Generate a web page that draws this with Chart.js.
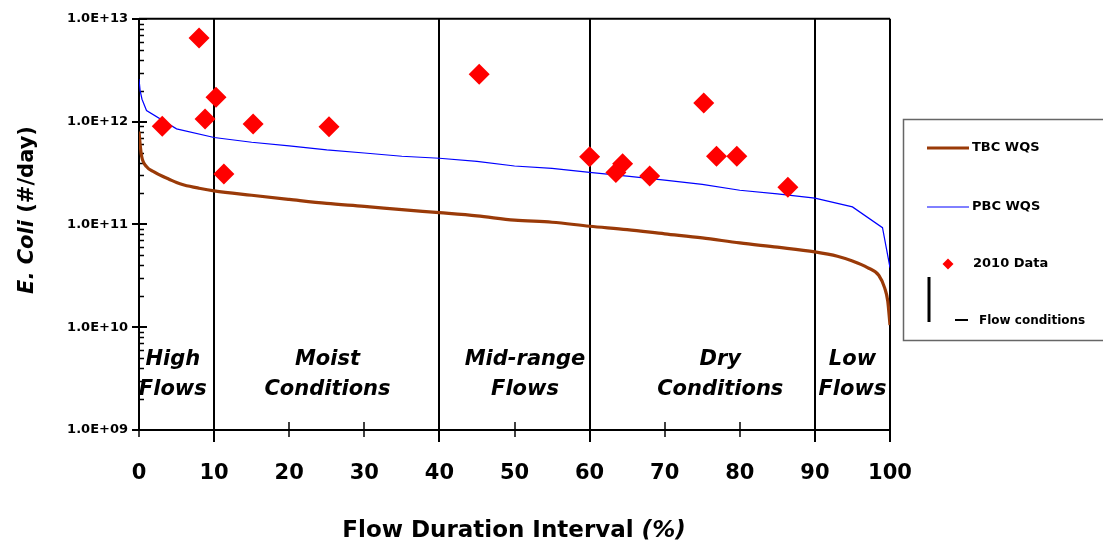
<!DOCTYPE html>
<html><head><meta charset="utf-8">
<script src="https://cdn.jsdelivr.net/npm/chart.js@4.4.1/dist/chart.umd.min.js"></script>
<style>html,body{margin:0;padding:0;background:#fff;overflow:hidden}#wrap{position:relative;width:1103px;height:546px}</style>
</head><body><div id="wrap"><canvas id="c" width="1103" height="546"></canvas></div>
<script>
// ---- data ----
const tbcX = [0, 0.15, 0.35, 1, 2, 3.2, 4, 5, 6, 8, 10, 15, 20, 25, 30, 35, 40, 45, 50, 55, 60, 65, 70, 75, 80, 85, 90, 93, 95, 97, 98.5, 99.3, 99.7, 100];
const tbcY = [8.0e11, 6.0e11, 4.6e11, 3.65e11, 3.25e11, 2.92e11, 2.75e11, 2.55e11, 2.42e11, 2.25e11, 2.12e11, 1.92e11, 1.75e11, 1.6e11, 1.5e11, 1.39e11, 1.3e11, 1.21e11, 1.1e11, 1.05e11, 9.6e10, 8.9e10, 8.1e10, 7.4e10, 6.6e10, 6.0e10, 5.4e10, 4.9e10, 4.4e10, 3.8e10, 3.2e10, 2.4e10, 1.8e10, 1.05e10];
const pbcX = [0, 0.15, 0.4, 1, 5, 10, 15, 20, 25, 30, 35, 40, 45, 50, 55, 60, 65, 70, 75, 80, 85, 90, 95, 99, 100];
const pbcY = [2.6e12, 2.0e12, 1.65e12, 1.28e12, 8.5e11, 7.0e11, 6.3e11, 5.8e11, 5.3e11, 4.95e11, 4.6e11, 4.4e11, 4.1e11, 3.7e11, 3.5e11, 3.2e11, 2.95e11, 2.7e11, 2.45e11, 2.15e11, 1.98e11, 1.8e11, 1.48e11, 9.3e10, 3.8e10];
const dataX = [3.1, 8.0, 8.8, 10.25, 11.3, 15.2, 25.3, 45.3, 60.0, 63.5, 64.4, 68.0, 75.2, 76.9, 79.6, 86.4];
const dataY = [9.0e11, 6.5e12, 1.06e12, 1.73e12, 3.1e11, 9.5e11, 8.9e11, 2.88e12, 4.55e11, 3.2e11, 3.9e11, 2.95e11, 1.52e12, 4.6e11, 4.6e11, 2.3e11];
const xTicks = [0, 10, 20, 30, 40, 50, 60, 70, 80, 90, 100];
const yTicks = [1e9, 1e10, 1e11, 1e12, 1e13];
const yTickLabels = ['1.0E+09', '1.0E+10', '1.0E+11', '1.0E+12', '1.0E+13'];
const flowBreaks = [10, 40, 60, 90];
const regionNames = [['High', 'Flows'], ['Moist', 'Conditions'], ['Mid-range', 'Flows'], ['Dry', 'Conditions'], ['Low', 'Flows']];
const regionCenters = [4.5, 25.1, 51.4, 77.4, 95.0];
const seriesNames = ['TBC WQS', 'PBC WQS', '2010 Data', 'Flow conditions'];
const xTitle = ['Flow Duration Interval ', '(%)'];
const yTitle = ['E. Coli', ' (#/day)'];

// ---- style ----
const FONT = '"Comic Sans MS", "DejaVu Sans", sans-serif';
const BROWN = '#9a3a08', BLUE = '#0000ff', RED = '#ff0000';

const toPts = (xs, ys) => xs.map((x, i) => ({x: x, y: ys[i]}));

const decor = {
  id: 'decor',
  beforeDatasetsDraw(chart) {
    const {ctx, chartArea: a, scales: {x, y}} = chart;
    ctx.save();
    ctx.strokeStyle = '#000';
    ctx.lineCap = 'butt';
    ctx.lineWidth = 2;
    ctx.beginPath();
    ctx.moveTo(a.left, a.top); ctx.lineTo(a.right, a.top);
    ctx.moveTo(a.right, a.top); ctx.lineTo(a.right, a.bottom + 12);
    ctx.stroke();
    flowBreaks.forEach(v => {
      const px = Math.round(x.getPixelForValue(v));
      ctx.beginPath(); ctx.moveTo(px, a.top); ctx.lineTo(px, a.bottom + 12); ctx.stroke();
    });
    ctx.lineWidth = 1.5;
    xTicks.forEach(v => {
      if (flowBreaks.includes(v)) return;
      const px = Math.round(x.getPixelForValue(v));
      ctx.beginPath(); ctx.moveTo(px, a.bottom - 8); ctx.lineTo(px, a.bottom + 7); ctx.stroke();
    });
    yTicks.forEach((v, i) => {
      const py = Math.round(y.getPixelForValue(v));
      ctx.lineWidth = 2;
      ctx.beginPath(); ctx.moveTo(a.left - 7, py); ctx.lineTo(a.left + 8, py); ctx.stroke();
      if (i < yTicks.length - 1) {
        ctx.lineWidth = 1.5;
        for (let m = 2; m <= 9; m++) {
          const my = Math.round(y.getPixelForValue(v * m)) + 0.5;
          ctx.beginPath(); ctx.moveTo(a.left, my); ctx.lineTo(a.left + 5, my); ctx.stroke();
        }
      }
    });
    ctx.restore();
  },
  afterDraw(chart) {
    const {ctx, chartArea: a, scales: {x, y}} = chart;
    ctx.save();
    ctx.fillStyle = '#000';
    ctx.textAlign = 'center';
    ctx.textBaseline = 'middle';
    // region labels
    ctx.font = 'italic bold 21px ' + FONT;
    regionNames.forEach((lines, i) => {
      const cx = x.getPixelForValue(regionCenters[i]);
      ctx.fillText(lines[0], cx, a.bottom - 70);
      ctx.fillText(lines[1], cx, a.bottom - 40);
    });
    // x title
    ctx.textAlign = 'left';
    const fx = 'bold 23px ' + FONT, fxi = 'italic bold 23px ' + FONT;
    ctx.font = fx;
    const w1 = ctx.measureText(xTitle[0]).width;
    ctx.font = fxi;
    const w2 = ctx.measureText(xTitle[1]).width;
    const x0 = 514 - (w1 + w2) / 2;
    ctx.font = fx;
    ctx.fillText(xTitle[0], x0, 531);
    ctx.font = fxi;
    ctx.fillText(xTitle[1], x0 + w1, 531);
    // y title
    ctx.save();
    ctx.translate(28, 210);
    ctx.rotate(-Math.PI / 2);
    const fy = 'bold 21px ' + FONT, fyi = 'italic bold 21px ' + FONT;
    ctx.font = fyi;
    const v1 = ctx.measureText(yTitle[0]).width;
    ctx.font = fy;
    const v2 = ctx.measureText(yTitle[1]).width;
    ctx.font = fyi;
    ctx.fillText(yTitle[0], -(v1 + v2) / 2, 0);
    ctx.font = fy;
    ctx.fillText(yTitle[1], -(v1 + v2) / 2 + v1, 0);
    ctx.restore();
    // legend box
    ctx.strokeStyle = '#666';
    ctx.lineWidth = 1.5;
    ctx.strokeRect(903.5, 119.5, 220, 221);
    ctx.font = 'bold 13px ' + FONT;
    ctx.lineWidth = 3; ctx.strokeStyle = BROWN;
    ctx.beginPath(); ctx.moveTo(927, 148); ctx.lineTo(969, 148); ctx.stroke();
    ctx.fillText(seriesNames[0], 972, 148);
    ctx.lineWidth = 1; ctx.strokeStyle = BLUE;
    ctx.beginPath(); ctx.moveTo(927, 207); ctx.lineTo(969, 207); ctx.stroke();
    ctx.fillText(seriesNames[1], 972, 207);
    ctx.fillStyle = RED;
    ctx.beginPath(); ctx.moveTo(948, 258.5); ctx.lineTo(953.5, 264); ctx.lineTo(948, 269.5); ctx.lineTo(942.5, 264); ctx.closePath(); ctx.fill();
    ctx.fillStyle = '#000';
    ctx.fillText(seriesNames[2], 973, 264);
    ctx.strokeStyle = '#000'; ctx.lineWidth = 3;
    ctx.beginPath(); ctx.moveTo(929, 277); ctx.lineTo(929, 322); ctx.stroke();
    ctx.lineWidth = 2;
    ctx.beginPath(); ctx.moveTo(955, 320); ctx.lineTo(968, 320); ctx.stroke();
    ctx.font = 'bold 12px ' + FONT;
    ctx.fillText(seriesNames[3], 979, 321);
    ctx.restore();
  }
};

new Chart(document.getElementById('c'), {
  type: 'scatter',
  data: {
    datasets: [
      {label: seriesNames[2], data: toPts(dataX, dataY), pointStyle: 'rectRot', pointRadius: 10.5, pointHoverRadius: 10.5,
       backgroundColor: RED, borderColor: RED, borderWidth: 0, showLine: false, order: 0},
      {label: seriesNames[1], data: toPts(pbcX, pbcY), showLine: true, borderColor: BLUE, borderWidth: 1.2,
       pointRadius: 0, tension: 0, order: 1},
      {label: seriesNames[0], data: toPts(tbcX, tbcY), showLine: true, borderColor: BROWN, borderWidth: 3.2,
       pointRadius: 0, tension: 0.3, cubicInterpolationMode: 'monotone', order: 2}
    ]
  },
  options: {
    responsive: false, animation: false, devicePixelRatio: 1,
    layout: {padding: {top: 16, right: 213, left: 0, bottom: 0}},
    plugins: {legend: {display: false}, tooltip: {enabled: false}},
    scales: {
      x: {
        type: 'linear', min: 0, max: 100,
        afterBuildTicks: s => { s.ticks = xTicks.map(v => ({value: v})); },
        afterFit: s => { s.height = 116; },
        grid: {display: false, drawTicks: false},
        border: {display: true, color: '#000', width: 2},
        ticks: {autoSkip: false, maxRotation: 0, padding: 31, color: '#000', font: {family: FONT, size: 21, weight: 'bold'}}
      },
      y: {
        type: 'logarithmic', min: 1e9, max: 1e13,
        afterBuildTicks: s => { s.ticks = yTicks.map(v => ({value: v})); },
        afterFit: s => { s.width = 139; },
        grid: {display: false, drawTicks: false},
        border: {display: true, color: '#000', width: 2},
        ticks: {autoSkip: false, padding: 11, color: '#000', font: {family: FONT, size: 13, weight: 'bold'},
                 callback: (v, i) => yTickLabels[i]}
      }
    }
  },
  plugins: [decor]
});
</script>
</body></html>
